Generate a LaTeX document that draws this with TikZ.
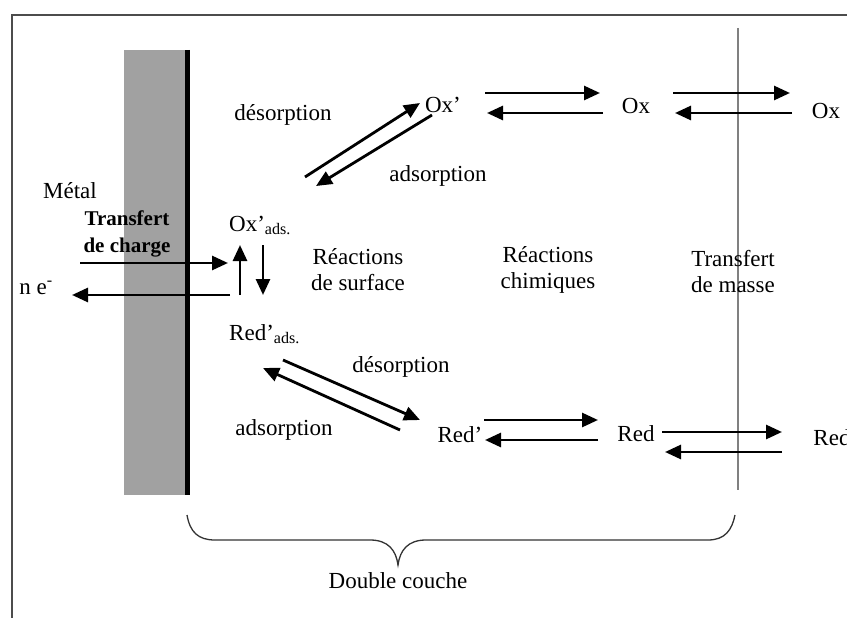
\documentclass[tikz,border=0pt]{standalone}
\usepackage{fontspec}
\setmainfont{Liberation Serif}
\usetikzlibrary{arrows.meta}

\begin{document}
\begin{tikzpicture}[x=1pt,y=-1pt,
        lbl/.style = {inner sep=0pt, font=\fontsize{23}{26}\selectfont, align=center},
        bold/.style = {inner sep=0pt, font=\fontsize{21}{27}\selectfont\bfseries, align=center},
        arr/.style = {line width=2.8pt, -{Triangle[length=16pt,width=14pt]}}]
        \useasboundingbox (0,0) rectangle (847,618);
        \clip (0,0) rectangle (847,618);
        % frame, metal, double layer limit
        \draw[line width=2.5pt, black!70] (12,640) -- (12,15) -- (870,15);
        \fill[black!37] (124,50) rectangle (187,495);
        \draw[line width=5pt] (187,50) -- (187,495);
        \draw[line width=1.2pt, black!50] (738,28) -- (738,490);
        % labels
        \node[lbl] (metal) at (70,191) {Métal};
        \node[bold] (charge) at (127,234) {Transfert\\de charge};
        \node[lbl] (ne) at (36,288) {n e\textsuperscript{-}};
        \node[lbl, anchor=base west] (oxads) at (229,231) {Ox’\textsubscript{ads.}};
        \node[lbl, anchor=base west] (redads) at (229,340) {Red’\textsubscript{ads.}};
        \node[lbl] (surf) at (358,270) {Réactions\\de surface};
        \node[lbl] (chim) at (548,270) {Réactions\\chimiques};
        \node[lbl] (masse) at (733,272) {Transfert\\de masse};
        \node[lbl] (des1) at (283,115) {désorption};
        \node[lbl] (ads1) at (438,176) {adsorption};
        \node[lbl] (des2) at (401,367) {désorption};
        \node[lbl] (ads2) at (284,430) {adsorption};
        \node[lbl] (oxp) at (443,105) {Ox’};
        \node[lbl] (ox) at (636,106) {Ox};
        \node[lbl] (ox2) at (826,111) {Ox};
        \node[lbl] (redp) at (460,435) {Red’};
        \node[lbl] (red) at (636,434) {Red};
        \node[lbl] (red2) at (832,438) {Red};
        \node[lbl] (dc) at (398,581) {Double couche};
        % arrow ends
        \coordinate (e1) at (80,263);   \coordinate (e2) at (228,263);
        \coordinate (e3) at (230,295);  \coordinate (e4) at (72,295);
        \coordinate (s1) at (240,295);  \coordinate (s2) at (240,245);
        \coordinate (s3) at (263,245);  \coordinate (s4) at (263,295);
        \coordinate (d1) at (305,177);  \coordinate (d2) at (420,103);
        \coordinate (d3) at (432,115);  \coordinate (d4) at (316,186);
        \coordinate (o1) at (485,93);   \coordinate (o2) at (600,93);
        \coordinate (o3) at (603,113);  \coordinate (o4) at (487,113);
        \coordinate (o5) at (673,93);   \coordinate (o6) at (790,93);
        \coordinate (o7) at (792,113);  \coordinate (o8) at (675,113);
        \coordinate (r1) at (283,360);  \coordinate (r2) at (420,420);
        \coordinate (r3) at (400,430);  \coordinate (r4) at (263,368);
        \coordinate (r5) at (484,420);  \coordinate (r6) at (598,420);
        \coordinate (r7) at (598,440);  \coordinate (r8) at (485,440);
        \coordinate (r9) at (662,432);  \coordinate (r10) at (782,432);
        \coordinate (r11) at (782,452); \coordinate (r12) at (665,452);
        \draw[arr] (e1) -- (e2);
        \draw[arr] (e3) -- (e4);
        \draw[arr] (s1) -- (s2);
        \draw[arr] (s3) -- (s4);
        \draw[arr] (d1) -- (d2);
        \draw[arr] (d3) -- (d4);
        \draw[arr] (o1) -- (o2);
        \draw[arr] (o3) -- (o4);
        \draw[arr] (o5) -- (o6);
        \draw[arr] (o7) -- (o8);
        \draw[arr] (r1) -- (r2);
        \draw[arr] (r3) -- (r4);
        \draw[arr] (r5) -- (r6);
        \draw[arr] (r7) -- (r8);
        \draw[arr] (r9) -- (r10);
        \draw[arr] (r11) -- (r12);
        % brace
        \draw[line width=1.3pt, black!80] (187,515) .. controls (190,532) and (198,540) .. (215,540) -- (370,540)
            .. controls (388,540) and (396,550) .. (398,565) .. controls (400,550) and (408,540) .. (426,540)
            -- (708,540) .. controls (725,540) and (732,530) .. (735,515);
        %\draw[arr] (oxads) -- (redads);
        \end{tikzpicture}
\end{document}
